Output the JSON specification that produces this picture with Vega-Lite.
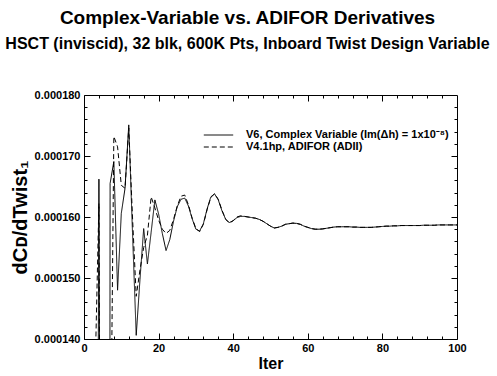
{
"$schema": "https://vega.github.io/schema/vega-lite/v6.json",
"width": 373, "height": 244,
"autosize": {"type": "none"},
"padding": {"left": 84, "top": 95, "right": 40, "bottom": 37},
"title": {"text": "Complex-Variable vs. ADIFOR Derivatives", "subtitle": "HSCT (inviscid), 32 blk, 600K Pts, Inboard Twist Design Variable", "font": "Liberation Sans", "fontSize": 19, "fontWeight": "bold", "color": "black", "subtitleFont": "Liberation Sans", "subtitleFontSize": 16, "subtitleFontWeight": "bold", "subtitleColor": "black", "subtitlePadding": 8, "anchor": "middle", "dx": -23, "offset": 37},
"config": {
  "view": {"stroke": "black", "strokeWidth": 1},
  "axis": {"grid": false, "domain": false, "tickColor": "black", "tickWidth": 1, "labelFont": "Liberation Sans", "labelFontWeight": "bold", "labelFontSize": 11, "labelColor": "black", "titleFont": "Liberation Sans", "titleFontWeight": "bold", "titleFontSize": 16, "titleColor": "black", "labelFlush": false}
},
"data": {"values": [
{"iter":0,"value":0,"series":"V6"},{"iter":1,"value":0,"series":"V6"},{"iter":2,"value":0,"series":"V6"},{"iter":3,"value":0,"series":"V6"},{"iter":4,"value":0.0001662,"series":"V6"},{"iter":5,"value":0,"series":"V6"},{"iter":6,"value":-0.0004,"series":"V6"},{"iter":7,"value":0.0001655,"series":"V6"},{"iter":8,"value":0.0001691,"series":"V6"},{"iter":9,"value":0.000148,"series":"V6"},
{"iter":10,"value":0.0001606,"series":"V6"},{"iter":11,"value":0.0001647,"series":"V6"},{"iter":12,"value":0.0001751,"series":"V6"},{"iter":13,"value":0.0001575,"series":"V6"},{"iter":14,"value":0.0001406,"series":"V6"},{"iter":15,"value":0.0001497,"series":"V6"},{"iter":16,"value":0.0001581,"series":"V6"},{"iter":17,"value":0.0001523,"series":"V6"},{"iter":18,"value":0.0001575,"series":"V6"},{"iter":19,"value":0.0001628,"series":"V6"},
{"iter":20,"value":0.0001605,"series":"V6"},{"iter":21,"value":0.0001573,"series":"V6"},{"iter":22,"value":0.0001545,"series":"V6"},{"iter":23,"value":0.0001563,"series":"V6"},{"iter":24,"value":0.0001593,"series":"V6"},{"iter":25,"value":0.0001617,"series":"V6"},{"iter":26,"value":0.0001629,"series":"V6"},{"iter":27,"value":0.0001631,"series":"V6"},{"iter":28,"value":0.0001618,"series":"V6"},{"iter":29,"value":0.0001597,"series":"V6"},
{"iter":30,"value":0.000158,"series":"V6"},{"iter":31,"value":0.0001577,"series":"V6"},{"iter":32,"value":0.0001589,"series":"V6"},{"iter":33,"value":0.0001613,"series":"V6"},{"iter":34,"value":0.0001633,"series":"V6"},{"iter":35,"value":0.0001638,"series":"V6"},{"iter":36,"value":0.0001628,"series":"V6"},{"iter":37,"value":0.000161,"series":"V6"},{"iter":38,"value":0.0001596,"series":"V6"},{"iter":39,"value":0.0001591,"series":"V6"},
{"iter":40,"value":0.0001594,"series":"V6"},{"iter":41,"value":0.0001599,"series":"V6"},{"iter":42,"value":0.0001601,"series":"V6"},{"iter":43,"value":0.0001601,"series":"V6"},{"iter":44,"value":0.00016,"series":"V6"},{"iter":45,"value":0.0001599,"series":"V6"},{"iter":46,"value":0.0001598,"series":"V6"},{"iter":47,"value":0.0001596,"series":"V6"},{"iter":48,"value":0.0001593,"series":"V6"},{"iter":49,"value":0.0001589,"series":"V6"},
{"iter":50,"value":0.0001585,"series":"V6"},{"iter":51,"value":0.0001582,"series":"V6"},{"iter":52,"value":0.0001583,"series":"V6"},{"iter":53,"value":0.0001585,"series":"V6"},{"iter":54,"value":0.0001588,"series":"V6"},{"iter":55,"value":0.0001589,"series":"V6"},{"iter":56,"value":0.000159,"series":"V6"},{"iter":57,"value":0.00015895,"series":"V6"},{"iter":58,"value":0.0001588,"series":"V6"},{"iter":59,"value":0.0001585,"series":"V6"},
{"iter":60,"value":0.0001583,"series":"V6"},{"iter":61,"value":0.0001581,"series":"V6"},{"iter":62,"value":0.000158,"series":"V6"},{"iter":63,"value":0.000158,"series":"V6"},{"iter":64,"value":0.00015805,"series":"V6"},{"iter":65,"value":0.00015815,"series":"V6"},{"iter":66,"value":0.00015825,"series":"V6"},{"iter":67,"value":0.00015835,"series":"V6"},{"iter":68,"value":0.0001584,"series":"V6"},{"iter":69,"value":0.0001584,"series":"V6"},
{"iter":70,"value":0.0001584,"series":"V6"},{"iter":71,"value":0.0001584,"series":"V6"},{"iter":72,"value":0.00015835,"series":"V6"},{"iter":73,"value":0.00015835,"series":"V6"},{"iter":74,"value":0.0001583,"series":"V6"},{"iter":75,"value":0.0001583,"series":"V6"},{"iter":76,"value":0.0001583,"series":"V6"},{"iter":77,"value":0.0001583,"series":"V6"},{"iter":78,"value":0.00015835,"series":"V6"},{"iter":79,"value":0.0001584,"series":"V6"},
{"iter":80,"value":0.00015845,"series":"V6"},{"iter":81,"value":0.0001585,"series":"V6"},{"iter":82,"value":0.0001585,"series":"V6"},{"iter":83,"value":0.00015855,"series":"V6"},{"iter":84,"value":0.00015855,"series":"V6"},{"iter":85,"value":0.0001586,"series":"V6"},{"iter":86,"value":0.0001586,"series":"V6"},{"iter":87,"value":0.0001586,"series":"V6"},{"iter":88,"value":0.0001586,"series":"V6"},{"iter":89,"value":0.0001586,"series":"V6"},
{"iter":90,"value":0.0001586,"series":"V6"},{"iter":91,"value":0.00015865,"series":"V6"},{"iter":92,"value":0.00015865,"series":"V6"},{"iter":93,"value":0.00015865,"series":"V6"},{"iter":94,"value":0.00015865,"series":"V6"},{"iter":95,"value":0.0001587,"series":"V6"},{"iter":96,"value":0.0001587,"series":"V6"},{"iter":97,"value":0.0001587,"series":"V6"},{"iter":98,"value":0.0001587,"series":"V6"},{"iter":99,"value":0.0001587,"series":"V6"},{"iter":100,"value":0.0001587,"series":"V6"},
{"iter":0,"value":0,"series":"V4.1hp"},{"iter":1,"value":0,"series":"V4.1hp"},{"iter":2,"value":0,"series":"V4.1hp"},{"iter":3,"value":0.000135,"series":"V4.1hp"},{"iter":4,"value":0.0001622,"series":"V4.1hp"},{"iter":5,"value":0,"series":"V4.1hp"},{"iter":6,"value":0,"series":"V4.1hp"},{"iter":7,"value":0.00011,"series":"V4.1hp"},{"iter":8,"value":0.0001732,"series":"V4.1hp"},{"iter":9,"value":0.0001715,"series":"V4.1hp"},
{"iter":10,"value":0.0001652,"series":"V4.1hp"},{"iter":11,"value":0.0001647,"series":"V4.1hp"},{"iter":12,"value":0.0001746,"series":"V4.1hp"},{"iter":13,"value":0.00016,"series":"V4.1hp"},{"iter":14,"value":0.000147,"series":"V4.1hp"},{"iter":15,"value":0.0001513,"series":"V4.1hp"},{"iter":16,"value":0.000155,"series":"V4.1hp"},{"iter":17,"value":0.000157,"series":"V4.1hp"},{"iter":18,"value":0.0001633,"series":"V4.1hp"},{"iter":19,"value":0.0001615,"series":"V4.1hp"},
{"iter":20,"value":0.0001595,"series":"V4.1hp"},{"iter":21,"value":0.000158,"series":"V4.1hp"},{"iter":22,"value":0.0001573,"series":"V4.1hp"},{"iter":23,"value":0.0001578,"series":"V4.1hp"},{"iter":24,"value":0.0001596,"series":"V4.1hp"},{"iter":25,"value":0.0001618,"series":"V4.1hp"},{"iter":26,"value":0.0001634,"series":"V4.1hp"},{"iter":27,"value":0.0001636,"series":"V4.1hp"},{"iter":28,"value":0.000162,"series":"V4.1hp"},{"iter":29,"value":0.0001598,"series":"V4.1hp"},
{"iter":30,"value":0.0001581,"series":"V4.1hp"},{"iter":31,"value":0.0001576,"series":"V4.1hp"},{"iter":32,"value":0.0001588,"series":"V4.1hp"},{"iter":33,"value":0.0001612,"series":"V4.1hp"},{"iter":34,"value":0.0001632,"series":"V4.1hp"},{"iter":35,"value":0.0001638,"series":"V4.1hp"},{"iter":36,"value":0.0001629,"series":"V4.1hp"},{"iter":37,"value":0.0001611,"series":"V4.1hp"},{"iter":38,"value":0.0001596,"series":"V4.1hp"},{"iter":39,"value":0.000159,"series":"V4.1hp"},
{"iter":40,"value":0.0001594,"series":"V4.1hp"},{"iter":41,"value":0.00016,"series":"V4.1hp"},{"iter":42,"value":0.0001602,"series":"V4.1hp"},{"iter":43,"value":0.0001601,"series":"V4.1hp"},{"iter":44,"value":0.00016,"series":"V4.1hp"},{"iter":45,"value":0.0001599,"series":"V4.1hp"},{"iter":46,"value":0.0001598,"series":"V4.1hp"},{"iter":47,"value":0.0001596,"series":"V4.1hp"},{"iter":48,"value":0.0001593,"series":"V4.1hp"},{"iter":49,"value":0.0001589,"series":"V4.1hp"},
{"iter":50,"value":0.0001585,"series":"V4.1hp"},{"iter":51,"value":0.0001582,"series":"V4.1hp"},{"iter":52,"value":0.0001583,"series":"V4.1hp"},{"iter":53,"value":0.0001585,"series":"V4.1hp"},{"iter":54,"value":0.0001588,"series":"V4.1hp"},{"iter":55,"value":0.0001589,"series":"V4.1hp"},{"iter":56,"value":0.000159,"series":"V4.1hp"},{"iter":57,"value":0.00015895,"series":"V4.1hp"},{"iter":58,"value":0.0001588,"series":"V4.1hp"},{"iter":59,"value":0.0001585,"series":"V4.1hp"},
{"iter":60,"value":0.0001583,"series":"V4.1hp"},{"iter":61,"value":0.0001581,"series":"V4.1hp"},{"iter":62,"value":0.000158,"series":"V4.1hp"},{"iter":63,"value":0.000158,"series":"V4.1hp"},{"iter":64,"value":0.00015805,"series":"V4.1hp"},{"iter":65,"value":0.00015815,"series":"V4.1hp"},{"iter":66,"value":0.00015825,"series":"V4.1hp"},{"iter":67,"value":0.00015835,"series":"V4.1hp"},{"iter":68,"value":0.0001584,"series":"V4.1hp"},{"iter":69,"value":0.0001584,"series":"V4.1hp"},
{"iter":70,"value":0.0001584,"series":"V4.1hp"},{"iter":71,"value":0.0001584,"series":"V4.1hp"},{"iter":72,"value":0.00015835,"series":"V4.1hp"},{"iter":73,"value":0.00015835,"series":"V4.1hp"},{"iter":74,"value":0.0001583,"series":"V4.1hp"},{"iter":75,"value":0.0001583,"series":"V4.1hp"},{"iter":76,"value":0.0001583,"series":"V4.1hp"},{"iter":77,"value":0.0001583,"series":"V4.1hp"},{"iter":78,"value":0.00015835,"series":"V4.1hp"},{"iter":79,"value":0.0001584,"series":"V4.1hp"},
{"iter":80,"value":0.00015845,"series":"V4.1hp"},{"iter":81,"value":0.0001585,"series":"V4.1hp"},{"iter":82,"value":0.0001585,"series":"V4.1hp"},{"iter":83,"value":0.00015855,"series":"V4.1hp"},{"iter":84,"value":0.00015855,"series":"V4.1hp"},{"iter":85,"value":0.0001586,"series":"V4.1hp"},{"iter":86,"value":0.0001586,"series":"V4.1hp"},{"iter":87,"value":0.0001586,"series":"V4.1hp"},{"iter":88,"value":0.0001586,"series":"V4.1hp"},{"iter":89,"value":0.0001586,"series":"V4.1hp"},
{"iter":90,"value":0.0001586,"series":"V4.1hp"},{"iter":91,"value":0.00015865,"series":"V4.1hp"},{"iter":92,"value":0.00015865,"series":"V4.1hp"},{"iter":93,"value":0.00015865,"series":"V4.1hp"},{"iter":94,"value":0.00015865,"series":"V4.1hp"},{"iter":95,"value":0.0001587,"series":"V4.1hp"},{"iter":96,"value":0.0001587,"series":"V4.1hp"},{"iter":97,"value":0.0001587,"series":"V4.1hp"},{"iter":98,"value":0.0001587,"series":"V4.1hp"},{"iter":99,"value":0.0001587,"series":"V4.1hp"},{"iter":100,"value":0.0001587,"series":"V4.1hp"}
]},
"layer": [
  {
    "mark": {"type": "line", "clip": true, "color": "black", "strokeWidth": 1},
    "encoding": {
      "x": {"field": "iter", "type": "quantitative", "scale": {"domain": [0, 100], "nice": false, "zero": false},
            "axis": {"orient": "bottom", "values": [0, 20, 40, 60, 80, 100], "tickSize": -6, "labelPadding": 9, "title": "Iter", "titleY": 29, "titleBaseline": "alphabetic"}},
      "y": {"field": "value", "type": "quantitative", "scale": {"domain": [0.00014, 0.00018], "nice": false, "zero": false},
            "axis": {"orient": "left", "values": [0.00014, 0.00015, 0.00016, 0.00017, 0.00018], "format": ".6f", "tickSize": -6, "labelPadding": 10, "title": "dCᴅ/dTwist₁", "titleFontSize": 20, "titleX": -64, "titleBaseline": "middle"}},
      "strokeDash": {"field": "series", "type": "nominal",
            "scale": {"domain": ["V6", "V4.1hp"], "range": [[1, 0], [5, 3]]},
            "legend": {"orient": "none", "legendX": 129, "legendY": 34.5, "title": null, "padding": 0, "rowPadding": 0,
                       "symbolType": "M-4.2,0H4.2", "symbolSize": 49, "symbolStrokeWidth": 1, "symbolStrokeColor": "black",
                       "labelFont": "Liberation Sans", "labelFontWeight": "bold", "labelFontSize": 11, "labelColor": "black",
                       "labelOffset": 22, "labelLimit": 320,
                       "labelExpr": "datum.label == 'V6' ? 'V6, Complex Variable (Im(Δh) = 1x10⁻⁸)' : 'V4.1hp, ADIFOR (ADII)'"}}
    }
  },
  {
    "mark": {"type": "line", "clip": true, "strokeOpacity": 0},
    "encoding": {
      "x": {"field": "iter", "type": "quantitative", "scale": {"domain": [0, 100], "nice": false, "zero": false},
            "axis": {"orient": "bottom", "values": [4, 8, 12, 16, 24, 28, 32, 36, 44, 48, 52, 56, 64, 68, 72, 76, 84, 88, 92, 96], "tickSize": -3, "labels": false, "title": null}},
      "y": {"field": "value", "type": "quantitative", "scale": {"domain": [0.00014, 0.00018], "nice": false, "zero": false},
            "axis": {"orient": "left", "values": [0.000142, 0.000144, 0.000146, 0.000148, 0.000152, 0.000154, 0.000156, 0.000158, 0.000162, 0.000164, 0.000166, 0.000168, 0.000172, 0.000174, 0.000176, 0.000178], "tickSize": -3, "labels": false, "title": null}}
    }
  },
  {
    "mark": {"type": "line", "clip": true, "strokeOpacity": 0},
    "encoding": {
      "x": {"field": "iter", "type": "quantitative", "scale": {"domain": [0, 100], "nice": false, "zero": false},
            "axis": {"orient": "top", "values": [20, 40, 60, 80], "tickSize": -6, "labels": false, "title": null}},
      "y": {"field": "value", "type": "quantitative", "scale": {"domain": [0.00014, 0.00018], "nice": false, "zero": false},
            "axis": {"orient": "right", "values": [0.00015, 0.00016, 0.00017], "tickSize": -6, "labels": false, "title": null}}
    }
  },
  {
    "mark": {"type": "line", "clip": true, "strokeOpacity": 0},
    "encoding": {
      "x": {"field": "iter", "type": "quantitative", "scale": {"domain": [0, 100], "nice": false, "zero": false},
            "axis": {"orient": "top", "values": [4, 8, 12, 16, 24, 28, 32, 36, 44, 48, 52, 56, 64, 68, 72, 76, 84, 88, 92, 96], "tickSize": -3, "labels": false, "title": null}},
      "y": {"field": "value", "type": "quantitative", "scale": {"domain": [0.00014, 0.00018], "nice": false, "zero": false},
            "axis": {"orient": "right", "values": [0.000142, 0.000144, 0.000146, 0.000148, 0.000152, 0.000154, 0.000156, 0.000158, 0.000162, 0.000164, 0.000166, 0.000168, 0.000172, 0.000174, 0.000176, 0.000178], "tickSize": -3, "labels": false, "title": null}}
    }
  }
],
"resolve": {"axis": {"x": "independent", "y": "independent"}}
}
